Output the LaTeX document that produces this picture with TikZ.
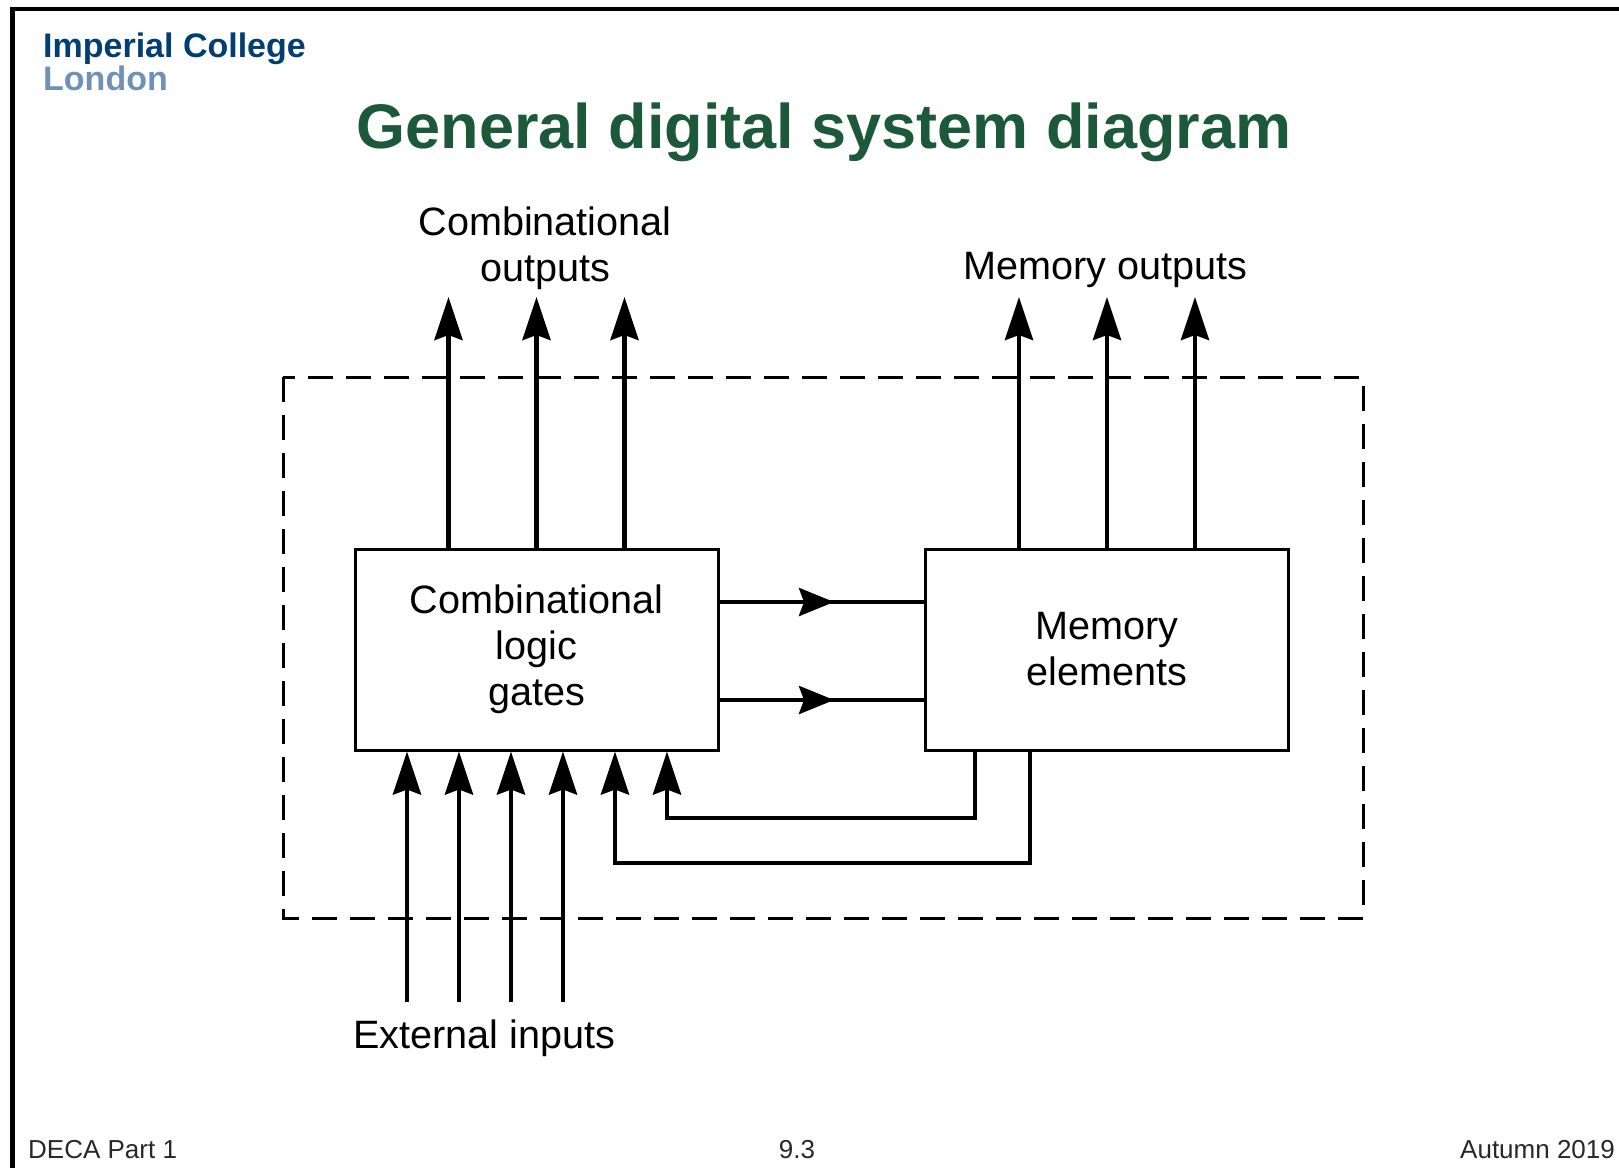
\documentclass[tikz,border=0pt]{standalone}
\usepackage{fontspec}
\setmainfont{Liberation Sans}
\usetikzlibrary{arrows.meta,decorations.markings}
\definecolor{titlegreen}{RGB}{28,88,58}
\definecolor{icblue}{RGB}{0,62,116}
\definecolor{iclight}{RGB}{110,145,185}
\definecolor{footgray}{RGB}{40,40,40}
\tikzset{
	sig/.style={line width=4.5pt,-{Stealth[length=43pt,width=28pt,inset=5pt]}},
	lbl/.style={font=\fontsize{39.6}{46}\selectfont,align=center,inner sep=0pt},
	blk/.style={lbl,draw,line width=3pt,fill=white,minimum width=363pt,minimum height=201pt},
	midarr/.style={line width=4.5pt,postaction={decorate},
		decoration={markings,mark=at position 0.56 with {\arrow{Stealth[length=35pt,width=28pt,inset=5pt]}}}},
	foot/.style={font=\fontsize{26}{30}\selectfont,text=footgray,inner sep=0pt,anchor=base west},
	logo/.style={font=\fontsize{34}{38}\selectfont\bfseries,inner sep=0pt,anchor=base west}
}
\begin{document}
\begin{tikzpicture}[x=1pt,y=-1pt]
	\useasboundingbox (0,0) rectangle (1619,1168);
	% slide frame
	\draw[line width=4pt] (10,9) -- (1619,9);
	\draw[line width=5pt] (12,9) -- (12,1168);
	\node[logo,text=icblue] (ic) at (43,57) {Imperial College};
	\node[logo,text=iclight] (ld) at (43,90) {London};
	\node[font=\fontsize{63}{70}\selectfont\bfseries,text=titlegreen,inner sep=0pt,anchor=base] (title) at (824,148) {General digital system diagram};
	% system boundary
	\draw[line width=3pt,dash pattern=on 25pt off 13pt] (283,377) rectangle (1363,918);
	\node[blk] (cl) at (536.5,649.5) {Combinational\\logic\\gates};
	\node[blk] (me) at (1107,649.5) {Memory\\elements};
	% outputs
	\foreach \i/\dx in {1/-88,2/0,3/88} {
		\coordinate (co\i) at ([xshift=\dx pt]cl.north |- 0,297);
		\coordinate (mo\i) at ([xshift=\dx pt]me.north |- 0,297);
		\draw[sig] (cl.north -| co\i) -- (co\i);
		\draw[sig] (me.north -| mo\i) -- (mo\i);
	}
	\node[lbl] (colbl) at (545,248) {Combinational\\outputs};
	\node[lbl,anchor=base] (molbl) at (1105,279) {Memory outputs};
	% internal signals
	\draw[midarr] (cl.east |- 0,602) -- (me.west |- 0,602);
	\draw[midarr] (cl.east |- 0,700) -- (me.west |- 0,700);
	% external inputs
	\foreach \i/\x in {1/407,2/459,3/511,4/563} {
		\coordinate (ei\i) at (\x,1002);
		\draw[sig] (ei\i) -- (ei\i |- cl.south);
	}
	\node[lbl,anchor=base] (eilbl) at (484,1048) {External inputs};
	% feedback
	\coordinate (fb1) at (667,818);
	\coordinate (fb2) at (615,863);
	\draw[sig] ([xshift=-132pt]me.south) |- (fb1) -- (fb1 |- cl.south);
	\draw[sig] ([xshift=-77pt]me.south) |- (fb2) -- (fb2 |- cl.south);
	% footer
	\node[foot] (f1) at (28,1158) {DECA Part 1};
	\node[foot,anchor=base] (f2) at (797,1158) {9.3};
	\node[foot] (f3) at (1460,1158) {Autumn 2019};
\end{tikzpicture}
\end{document}
